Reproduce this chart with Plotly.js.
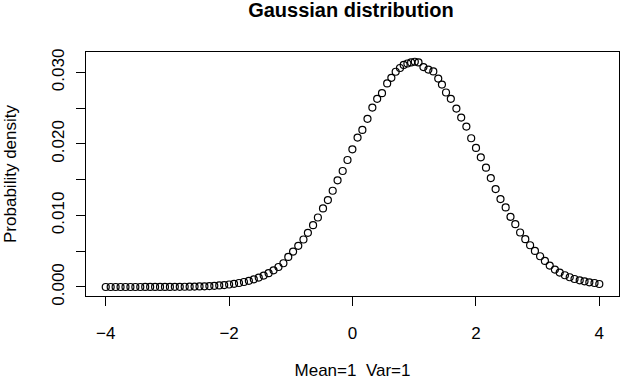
<!DOCTYPE html>
<html>
<head>
<meta charset="utf-8">
<script src="https://cdn.plot.ly/plotly-3.0.1.min.js"></script>
<style>
  body { margin: 0; background: #fff; }
  #plot { width: 620px; height: 380px; }
</style>
</head>
<body>
<div id="plot"></div>
<script>
var xs = [-4.00, -3.92, -3.84, -3.76, -3.68, -3.60, -3.52, -3.44, -3.36, -3.28,
    -3.20, -3.12, -3.04, -2.96, -2.88, -2.80, -2.72, -2.64, -2.56, -2.48,
    -2.40, -2.32, -2.24, -2.16, -2.08, -2.00, -1.92, -1.84, -1.76, -1.68,
    -1.60, -1.52, -1.44, -1.36, -1.28, -1.20, -1.12,
    -1.041, -0.963, -0.879, -0.795, -0.723, -0.639, -0.561, -0.478, -0.399, -0.321,
    -0.242, -0.159, -0.081, -0.002, 0.082, 0.160, 0.243, 0.322, 0.400, 0.478, 0.562,
    0.63, 0.70, 0.77, 0.83, 0.89, 0.95, 1.01, 1.07, 1.15, 1.23, 1.31, 1.39, 1.45,
    1.516, 1.594, 1.684, 1.762, 1.846, 1.924, 2.002, 2.080, 2.164, 2.242,
    2.320, 2.399, 2.483, 2.561, 2.639, 2.717, 2.801, 2.879, 2.957, 3.041,
    3.119, 3.197, 3.281, 3.359, 3.443, 3.521, 3.599, 3.683, 3.761, 3.839,
    3.923, 4.001];

var density = [0.0000001, 0.0000002, 0.0000003, 0.0000004, 0.0000006, 0.0000008, 0.0000012, 0.0000016, 0.0000023, 0.0000033,
    0.0000046, 0.0000065, 0.0000090, 0.0000123, 0.0000169, 0.0000230, 0.0000310, 0.0000416, 0.0000555, 0.0000737,
    0.0000970, 0.000127, 0.000165, 0.000213, 0.000274, 0.000349, 0.000442, 0.000557, 0.000696, 0.000866,
    0.001069, 0.001312, 0.001600, 0.001938, 0.002334, 0.002792, 0.003319,
    0.00421, 0.00495, 0.00575, 0.00664, 0.00757, 0.00865, 0.00972, 0.01098, 0.01215, 0.01346,
    0.01491, 0.01622, 0.01776, 0.01925, 0.02089, 0.02196, 0.02351, 0.02509, 0.02631, 0.02710, 0.02846,
    0.02925, 0.03010, 0.03062, 0.03105, 0.03125, 0.03140, 0.03150, 0.03140, 0.03075, 0.03040, 0.03015, 0.02915, 0.02830,
    0.02720, 0.02631, 0.02495, 0.02369, 0.02243, 0.02080, 0.01944, 0.01813, 0.01668, 0.01523,
    0.01369, 0.01229, 0.01112, 0.00981, 0.00879, 0.00762, 0.00668, 0.00584, 0.00505, 0.00430,
    0.00364, 0.00299, 0.00243, 0.00201, 0.00164, 0.00136, 0.00112, 0.00093, 0.00079, 0.00065,
    0.00056, 0.00042];

var xticks = [-4, -2, 0, 2, 4];
var yticks = [0, 0.005, 0.010, 0.015, 0.020, 0.025, 0.030];
var ylabels = ['0.000', '', '0.010', '', '0.020', '', '0.030'];

var font = 'Liberation Sans, Arial, sans-serif';

var data = [{
    x: xs,
    y: density,
    type: 'scatter',
    mode: 'markers',
    marker: {
        symbol: 'circle-open',
        size: 7,
        color: '#000',
        line: { width: 1.2, color: '#000' }
    },
    hoverinfo: 'skip'
}];

var layout = {
    width: 620,
    height: 380,
    paper_bgcolor: '#fff',
    plot_bgcolor: '#fff',
    showlegend: false,
    margin: { l: 86, r: 1, t: 52, b: 84 },
    font: { family: font, size: 17, color: '#000' },
    title: {
        text: '<b>Gaussian distribution</b>',
        font: { family: font, size: 20, color: '#000' },
        x: 0.566, xanchor: 'center',
        y: 0.975, yanchor: 'middle'
    },
    xaxis: {
        range: [-4.32, 4.32],
        tickvals: xticks,
        ticks: 'outside',
        ticklen: 9,
        tickwidth: 1,
        tickcolor: '#000',
        ticklabelstandoff: 13,
        showgrid: false,
        zeroline: false,
        showline: true,
        linecolor: '#000',
        linewidth: 1,
        mirror: true,
        tickfont: { family: font, size: 17 },
        title: { text: 'Mean=1  Var=1', font: { family: font, size: 17 }, standoff: 32 }
    },
    yaxis: {
        range: [-0.00126, 0.03286],
        tickvals: yticks,
        ticktext: ylabels,
        tickangle: -90,
        ticks: 'outside',
        ticklen: 9,
        tickwidth: 1,
        tickcolor: '#000',
        ticklabelstandoff: 5,
        showgrid: false,
        zeroline: false,
        showline: true,
        linecolor: '#000',
        linewidth: 1,
        mirror: true,
        tickfont: { family: font, size: 17 },
        title: { text: 'Probability density', font: { family: font, size: 17 }, standoff: 28 }
    }
};

Plotly.newPlot('plot', data, layout, { staticPlot: true });
</script>
</body>
</html>
